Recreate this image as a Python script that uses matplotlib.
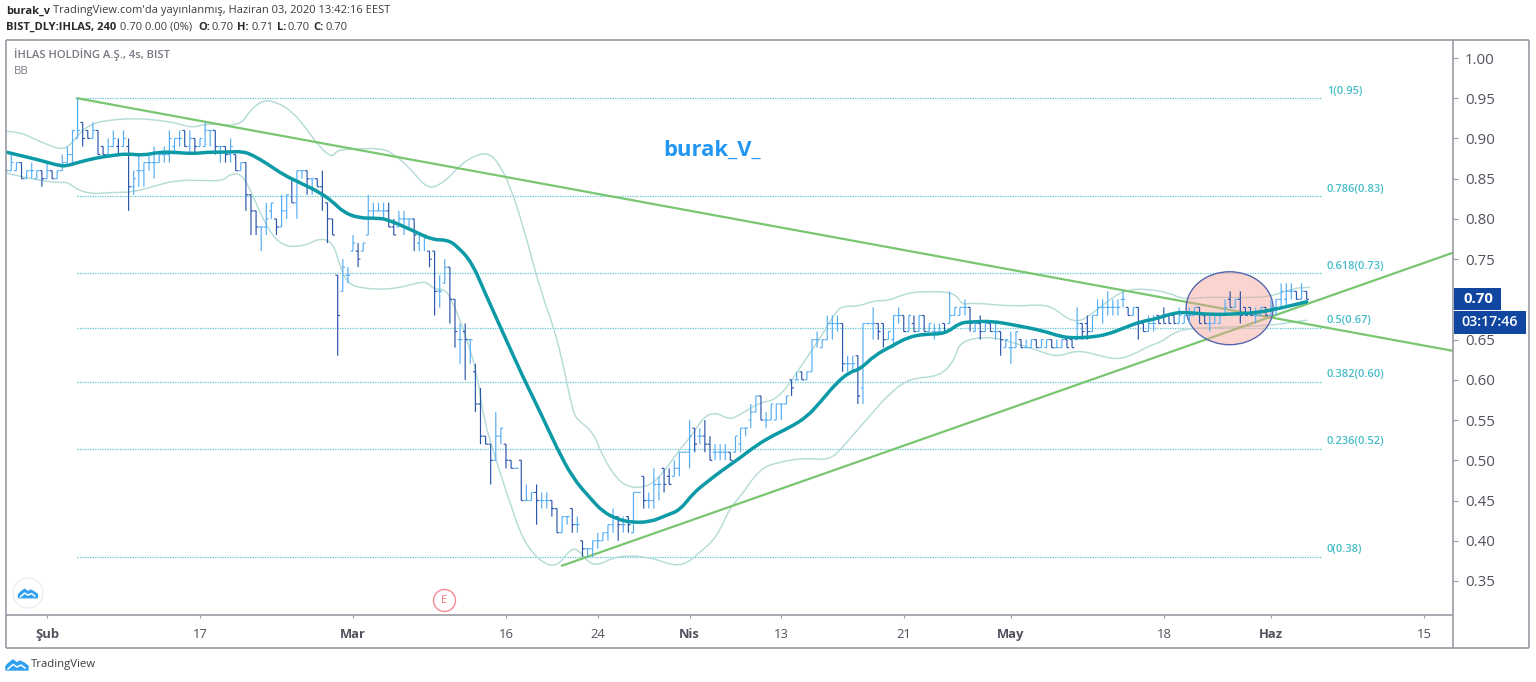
import numpy as np
import matplotlib
matplotlib.use("Agg")
import matplotlib.pyplot as plt
from matplotlib.collections import LineCollection
from matplotlib.patches import Ellipse, Rectangle, Circle, Polygon, PathPatch
from matplotlib.path import Path

# ---------- DATA (prices in kurus, one bar = 4 hours, x = bar number counted from 3 Feb) ----------
first_bar = -8
opens = [86,86,86,87,85,86,85,86,85,86, 85,86,87,88,90,92,91,90,91,89,
         88,89,89,89,89,84,86,86,87,87, 87,88,88,89,90,91,89,90,89,89,
         91,91,89,89,88,88,86,87,83,81, 79,79,81,80,79,81,85,82,86,86,
         85,85,84,82,80,73,71,73,76,76, 76,78,81,81,81,81,79,79,80,80,
         80,77,78,76,76,71,72,74,70,65, 66,65,61,57,53,52,50,53,52,50,
         49,50,45,45,46,45,45,45,44,41, 43,44,42,40,39,39,40,40,41,42,
         43,42,43,41,46,48,45,45,47,49, 48,48,49,51,51,54,53,53,52,51,
         51,51,51,51,52,54,55,56,58,55, 55,55,57,57,60,60,61,60,61,65,
         64,65,67,67,67,62,62,63,59,67, 67,67,67,65,65,68,68,66,67,66,
         68,66,66,66,67,67,68,68,69,69, 66,67,66,67,66,66,64,64,64,65,
         64,64,65,64,64,65,64,64,65,65, 65,67,67,66,68,69,69,69,69,70,
         69,68,69,67,66,67,68,68,68,68, 67,67,68,68,69,68,67,67,67,68,
         70,69,70,69,69,68,68,69,68,69, 70,70,71,71,70,71]
highs = [87,88,87,87,86,87,86,86,87,86, 86,88,89,91,95,92,91,92,91,89,
         90,91,90,91,90,86,88,87,88,89, 88,89,91,90,91,91,91,90,90,92,
         91,91,89,89,90,88,87,87,83,81, 79,82,82,80,83,83,85,86,86,86,
         85,85,86,82,80,73,75,74,78,77, 77,83,82,82,82,82,80,81,81,80,
         80,78,78,76,76,73,75,74,70,67, 67,65,62,59,53,52,56,54,52,50,
         49,50,47,46,47,46,46,45,44,43, 43,44,43,40,39,40,41,41,42,44,
         43,43,43,46,46,48,46,49,48,49, 49,50,51,51,55,54,54,55,53,52,
         52,52,51,53,54,54,57,58,58,56, 57,57,57,58,60,61,61,61,65,66,
         65,68,68,68,67,63,63,63,67,67, 69,67,67,66,68,69,68,68,68,68,
         68,67,67,67,67,71,69,69,70,69, 67,68,67,67,67,66,65,66,66,65,
         65,65,65,65,65,65,65,65,65,65, 69,67,68,68,70,70,71,70,70,71,
         69,69,69,67,68,68,68,69,68,68, 69,68,69,69,69,68,68,68,68,70,
         71,70,71,69,69,69,69,69,70,70, 72,72,72,71,72,71]
lows = [86,86,86,85,85,85,85,84,85,85, 85,86,87,87,90,89,90,90,88,88,
        88,89,88,89,81,83,84,84,86,85, 87,87,87,88,89,89,88,88,89,89,
        89,88,87,87,87,86,86,81,78,78, 76,78,80,78,79,80,82,80,85,83,
        83,84,81,77,78,63,71,72,76,74, 76,78,80,81,80,79,78,79,78,79,
        76,76,76,74,68,69,72,67,64,62, 60,62,56,52,52,47,50,52,49,49,
        49,45,45,45,42,44,44,43,41,41, 42,41,41,38,38,38,39,40,40,41,
        40,41,41,41,46,44,44,44,45,46, 47,48,48,51,49,51,52,51,50,50,
        50,50,50,51,51,53,54,56,55,54, 55,55,55,57,58,60,60,60,61,64,
        64,65,65,66,61,61,61,57,57,67, 65,65,64,65,64,67,66,66,66,66,
        66,66,65,66,66,67,68,68,68,66, 66,65,66,66,65,63,64,62,64,64,
        64,64,64,64,64,64,64,64,64,64, 65,65,65,66,68,67,68,68,68,69,
        68,68,65,66,66,66,67,67,67,67, 67,67,67,68,67,67,66,67,67,68,
        69,69,67,68,68,67,68,68,68,68, 69,69,70,70,70,70]
closes = [86,87,87,85,86,86,86,85,86,85, 86,87,88,91,91,90,90,91,88,88,
          89,90,88,90,84,85,86,87,87,87, 88,88,90,90,90,89,90,89,90,91,
          91,89,89,88,89,86,87,83,81,79, 79,80,82,79,81,83,82,86,86,85,
          85,84,83,80,78,68,74,73,77,75, 77,81,81,81,81,79,78,80,80,80,
          78,78,78,75,71,71,74,70,66,65, 65,65,57,53,52,50,53,54,50,49,
          49,45,45,46,45,45,45,44,41,43, 43,42,42,39,39,40,40,41,42,43,
          42,42,42,46,46,45,45,47,47,47, 47,49,51,51,53,52,53,52,50,51,
          51,51,50,53,54,54,56,58,55,55, 57,57,57,58,59,60,60,61,65,65,
          65,67,67,67,62,62,62,58,67,67, 67,66,65,66,68,68,66,68,66,68,
          66,67,66,66,66,68,69,69,69,67, 67,66,67,66,66,65,65,64,66,64,
          64,65,64,65,65,64,64,65,64,64, 67,66,66,68,69,69,69,69,69,70,
          68,69,67,66,67,67,67,67,67,67, 68,68,68,69,67,67,67,68,68,69,
          69,70,68,68,68,68,69,68,69,70, 71,71,71,70,71,70]

basis_x = [-8,-5.3,-1.4,2.5,3.9,6.5,9.8,12.9,15.7,18.8,22,24.7,28.6,31.4,35.3,38.4,40.4,43.1,46.3,49.6,
           53.5,56.1,58,61,64.9,66.9,71.6,75.5,78.6,80.6,83.3,85.9,89.8,93.3,96.7,100,103.1,106.5,109,111.8,
           114.3,118.2,121.6,124.1,126.7,129.4,132.5,135.9,139.2,142.4,145.7,149,151.6,154.9,157.5,159.4,162.4,165.7,168.8,172.2,
           176.1,179,181.4,185.3,189.8,195.3,198.6,201.2,204.5,207.8,211.8,214.3,217.6,220.8,223.5,228,233.9,237.8,241.8,247]
basis_y = [88.3,87.9,87.3,86.6,86.6,87.1,87.6,87.9,88.1,87.9,88.3,88.3,88.1,88.3,88.3,88.4,87.9,86.9,85.5,84.5,
           83.3,82.1,80.9,80.1,80.1,79.9,78.6,77.4,77.4,76.5,74.6,70.8,65.3,60.4,56.0,51.5,47.8,45.3,43.6,42.7,
           42.3,42.3,43.2,43.8,45.9,47.3,48.8,50.3,51.9,53.1,54.1,55.4,57.2,59.7,61.0,61.3,63.1,64.2,65.3,65.7,
           65.7,67.1,67.2,67.3,66.8,66.1,65.4,65.2,65.3,65.6,66.6,67.2,67.6,68.3,68.4,68.1,68.2,68.4,68.9,69.7]

upper_x = [-8,-5.3,-2,0.6,3.1,4.9,6.5,9,12.4,16.9,21.6,25.5,28.6,31.4,37.8,39.8,42.4,45.1,48.2,51,
           53.5,55.9,56.9,60.8,65.3,67.8,71.2,74.7,78,81,83.9,86.3,88.2,90.8,93.7,96.7,100.2,103.1,104.1,107.1,
           109,111.8,114.3,117.6,120.2,124.1,126.1,129,131.4,133.9,136.5,139.8,142.4,145.1,147.1,149.6,152.2,154.9,156.5,159,
           162.4,164.9,168.2,171.6,178,179.4,181.4,189.8,195.3,198,200,202.5,205.1,209,211.8,215.7,220.2,222.7,227.5,233.9,
           239.8,244.3,247.6]
upper_y = [90.9,90.8,89.8,89.1,88.6,89.4,90.8,91.9,92.3,92.5,92.3,91.9,91.3,91.9,91.5,93.5,94.8,94.5,93.3,91.1,
           88.9,87.6,88.6,88.7,88.8,88.2,86.3,83.6,84.6,86.7,87.9,88.2,87.3,84.2,78.4,71.2,65,56,55,53.5,
           50.4,47.6,46.6,46.7,47.9,51.4,52.8,55.6,55.9,55,55.9,57.2,57.4,59,61,63.3,65.8,68.7,69.2,69.1,
           69.9,69.8,70.7,71,70.9,69.3,69.6,69.1,69.4,68.7,67.6,67.2,68.3,70.3,71.2,71.3,70.8,70,70.3,70.2,
           70.3,71.4,71.5]

lower_x = [-8,-5.3,-1.4,2,4.1,5.9,9,12.4,16.9,21.6,25.5,30,34.5,35.9,38.2,40.2,41.8,44.3,46.3,48.2,
           51,53.5,56.1,57.5,58.8,61,67.6,73.5,74.7,76.1,78,79.4,82,84.5,85.5,88.2,90.8,93.3,96.7,100,
           102.5,104.1,107.1,111.8,118.2,124.1,128,131.4,133.9,135.9,139.8,143.7,148.6,153.5,156.1,158,162.7,164.3,168.8,175.1,
           178,179,184.5,189.2,194.1,198,202,205.9,209.8,212.9,216.3,218.2,220.8,223.5,233.9,240.4,244.3,247]
lower_y = [85.7,85.3,84.8,84.5,84.6,83.6,83.1,83.3,83.3,84.2,84.8,84.8,84.7,85.6,85.6,83.2,80.7,77.8,76.8,76.5,
           76.8,77.6,77.1,74,72.2,71.4,71.2,72.2,72,71.2,71.3,69.9,65.8,60.4,55.4,49.7,44.7,40.1,37.4,36.7,
           38.9,39,36.6,38.2,38,36.6,38.5,40.5,44.1,45.4,49,49.8,50.3,50,51.7,53.1,56.5,57.7,60.2,60.4,
           62.5,64.8,65.4,64.7,63.7,62.8,63.7,63.1,62.5,63.1,64.3,64.6,65.8,66.4,66.6,66.8,67.2,67.4]

fib_ratios = [1, 0.786, 0.618, 0.5, 0.382, 0.236, 0]
fib_labels = ["1(0.95)", "0.786(0.83)", "0.618(0.73)", "0.5(0.67)", "0.382(0.60)", "0.236(0.52)", "0(0.38)"]
fib_low, fib_high = 0.38, 0.95
fib_start, fib_end = 5.9, 250

down_x, down_y = [5.9, 275.7], [0.95, 0.636]
up_x, up_y = [101, 275.7], [0.369, 0.758]

xtick_bars = [0, 30, 60, 90, 108, 126, 144, 168, 189, 219, 240, 270]
xtick_labels = ["Şub", "17", "Mar", "16", "24", "Nis", "13", "21", "May", "18", "Haz", "15"]
xtick_bold = ["Şub", "Mar", "Nis", "May", "Haz"]
ytick_values = [0.35, 0.40, 0.45, 0.50, 0.55, 0.60, 0.65, 0.70, 0.75, 0.80, 0.85, 0.90, 0.95, 1.00]

# ---------- STYLE ----------
W, H = 1536, 682
FONT = "Open Sans"
plt.rcParams["font.family"] = [FONT, "DejaVu Sans"]
UP, DOWN = "#55aef5", "#2b55aa"
TEAL, BAND = "#0b9aa6", "#b5dcd8"
FIB, GREEN = "#45bcc9", "#78c670"
GREY, FRAME = "#50535e", "#9a9ca4"
NAVY = "#1046a0"

fig = plt.figure(figsize=(W / 100, H / 100), dpi=100, facecolor="white")
L, R, T, B = 6, 1453, 40, 615
ax = fig.add_axes([L / W, 1 - B / H, (R - L) / W, (B - T) / H])
ax.set_xlim(-8.04, 275.7)
ax.set_ylim(0.3077, 1.0224)
for s in ax.spines.values():
    s.set_visible(False)


def smooth_line(xv, yv, **kw):
    """Draw a series as a quadratic B-spline whose control points are the read values."""
    pts = np.column_stack([xv, np.array(yv) / 100])
    verts, codes = [pts[0]], [Path.MOVETO]
    for k in range(1, len(pts) - 1):
        verts += [pts[k], (pts[k] + pts[k + 1]) / 2]
        codes += [Path.CURVE3, Path.CURVE3]
    verts.append(pts[-1])
    codes.append(Path.LINETO)
    ax.add_patch(PathPatch(Path(verts, codes), facecolor="none", capstyle="round", joinstyle="round", **kw))


# ---------- fibonacci ----------
for ratio, label in zip(fib_ratios, fib_labels):
    level = fib_low + (fib_high - fib_low) * ratio
    ax.plot([fib_start, fib_end], [level, level], color=FIB, lw=0.9, ls=(0, (1, 1)), alpha=0.85, zorder=1)
    ax.annotate(label, (fib_end, level), xytext=(3.5, 5), textcoords="offset points",
                color=FIB, fontsize=7.9, fontweight="semibold", va="center", ha="left")

# ---------- bollinger ----------
smooth_line(upper_x, upper_y, edgecolor=BAND, lw=1.05, zorder=2)
smooth_line(lower_x, lower_y, edgecolor=BAND, lw=1.05, zorder=2)

# ---------- trend lines, ellipse ----------
ax.plot(down_x, down_y, color=GREEN, lw=1.6, zorder=2.5)
ax.plot(up_x, up_y, color=GREEN, lw=1.6, zorder=2.5)
ax.add_patch(Ellipse((231.9, 0.689), 17.06, 0.0907, facecolor="#f7a097", alpha=0.45, edgecolor="none", zorder=2.7))
ax.add_patch(Ellipse((231.9, 0.689), 17.06, 0.0907, facecolor="none", edgecolor="#5668ad", lw=1.0, zorder=2.8))

# ---------- OHLC bars ----------
o, h, l, c = [np.array(a) / 100 for a in (opens, highs, lows, closes)]
assert len(o) == len(h) == len(l) == len(c)
xs = first_bar + np.arange(len(o))
segs, cols = [], []
for x, op, hi, lo, cl in zip(xs, o, h, l, c):
    col = DOWN if cl < op else UP
    segs += [[(x, lo), (x, hi)], [(x - 0.45, op), (x, op)], [(x, cl), (x + 0.45, cl)]]
    cols += [col, col, col]
lc = LineCollection(segs, colors=cols, linewidths=0.85, zorder=3, capstyle="butt")
lc.set_snap(False)
ax.add_collection(lc)

smooth_line(basis_x, basis_y, edgecolor=TEAL, lw=2.5, zorder=4)

ax.text(120.8, 0.885, "burak_V_", color="#2196f3", fontsize=15.8, fontweight="bold", ha="left", va="center", zorder=7)

# ---------- axes ----------
ax.yaxis.tick_right()
ax.set_yticks(ytick_values)
ax.set_yticklabels([f"{v:.2f}" for v in ytick_values], fontsize=10.8, color=GREY)
ax.set_xticks(xtick_bars)
ax.set_xticklabels(xtick_labels, fontsize=9.4, color=GREY)
for t in ax.get_xticklabels():
    if t.get_text() in xtick_bold:
        t.set_fontweight("bold")
ax.tick_params(axis="y", length=3.6, width=0.8, color=FRAME, pad=5)
ax.tick_params(axis="x", length=2.5, width=0.8, color=FRAME, pad=7)

# ---------- overlay in pixel coordinates ----------
ov = fig.add_axes([0, 0, 1, 1], zorder=10)
ov.set_xlim(0, W)
ov.set_ylim(H, 0)
ov.axis("off")
ov.patch.set_visible(False)

for (x0, y0, x1, y1) in [(L, T, 1529, T), (L, 648, 1529, 648), (L, T, L, 648), (1529, T, 1529, 648),
                         (L, B, R, B), (R, T, R, 648)]:
    ov.plot([x0, x1], [y0, y1], color=FRAME, lw=1.2, solid_capstyle="butt")

ov.add_patch(Rectangle((1454, 288), 47, 22, facecolor=NAVY, edgecolor="none"))
ov.add_patch(Rectangle((1454, 311), 72, 23, facecolor=NAVY, edgecolor="none"))
ov.text(1478, 299, "0.70", color="white", fontsize=10.8, fontweight="bold", ha="center", va="center")
ov.text(1490, 322.5, "03:17:46", color="white", fontsize=10.3, fontweight="semibold", ha="center", va="center")

# header
HC = "#2a2a2e"
HS = 8.05
ov.text(6, 11, "burak_v", fontsize=HS, fontweight="bold", color=HC, va="center")
ov.text(53, 11, "TradingView.com'da yayınlanmış, Haziran 03, 2020 13:42:16 EEST", fontsize=HS, color="#3c3c40", va="center")
ov.text(6, 27, "BIST_DLY:IHLAS, 240", fontsize=HS, fontweight="bold", color=HC, va="center")
ov.text(120, 27, "0.70 0.00 (0%)", fontsize=HS, color="#3c3c40", va="center")
for xp, txt, bold in [(198, "O:", True), (212, "0.70", False), (237, "H:", True), (251, "0.71", False),
                      (277, "L:", True), (288, "0.70", False), (313, "C:", True), (325, "0.70", False)]:
    ov.text(xp, 27, txt, fontsize=HS, fontweight="bold" if bold else "normal", color=HC if bold else "#3c3c40", va="center")

ov.text(14, 55, "İHLAS HOLDİNG A.Ş., 4s, BIST", fontsize=8.1, fontweight="semibold", color="#787b86", va="center")
ov.text(14, 71, "BB", fontsize=8.2, color="#787b86", va="center")

# earnings marker
ov.add_patch(Circle((444.5, 600.5), 11, facecolor="white", edgecolor="#f58a93", lw=1.0, zorder=5))
ov.text(444.5, 600.5, "E", color="#f0717c", fontsize=8, ha="center", va="center", zorder=6)


def cloud(cx, cy, s):
    pts = [(-11, 5), (-11, 1), (-8, -2), (-4, -5), (0, -2), (3, -4), (7, -2), (11, 1), (11, 5)]
    ov.add_patch(Polygon([(cx + a * s, cy + b * s) for a, b in pts], closed=True, facecolor="#2f9ff0",
                         edgecolor="#2f9ff0", lw=1, joinstyle="round", zorder=6))
    ov.plot([cx + a * s for a in (-9, -4, 0, 4, 8)], [cy + b * s for b in (4, -0.5, 2, 0, 3)],
            color="white", lw=1.1, zorder=7)


ov.add_patch(Circle((28, 593), 15, facecolor="white", edgecolor="#eceef2", lw=1.0, zorder=5))
cloud(28, 593.5, 0.85)
cloud(17, 665, 1.0)
ov.text(31, 665, "TradingView", fontsize=8.2, color="#3c3c40", va="center")

fig.savefig("out.png", dpi=100, facecolor="white")
